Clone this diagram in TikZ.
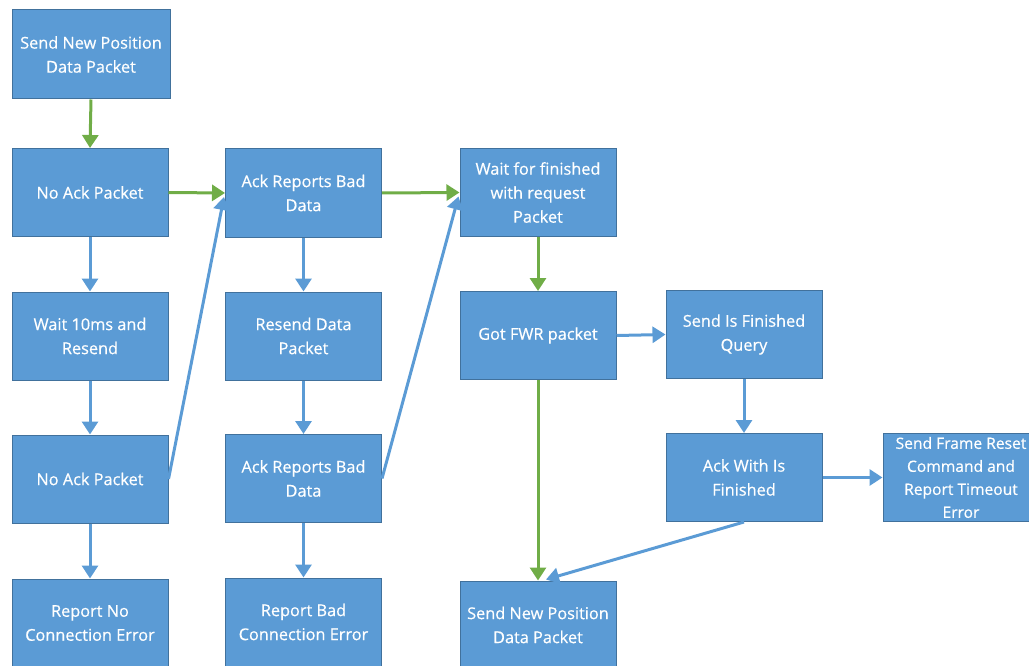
\documentclass[tikz,border=0pt]{standalone}
\usepackage{fontspec}
\setmainfont{Open Sans}
\newfontfamily\boxfont{Open Sans}[FakeBold=0.5]
\usetikzlibrary{arrows.meta,calc}
\definecolor{boxfill}{HTML}{5B9BD5}
\definecolor{boxline}{HTML}{41719C}
\definecolor{arrgreen}{HTML}{70AD47}
\definecolor{arrblue}{HTML}{5B9BD5}
\begin{document}
\begin{tikzpicture}[x=1pt,y=-1pt,
  box/.style={draw=boxline,line width=1pt,fill=boxfill,text=white,
    minimum width=156pt,minimum height=88pt,align=center,inner sep=1pt,
    font=\boxfont\fontsize{16.3}{24}\selectfont},
  garr/.style={draw=arrgreen,line width=3pt,-{Triangle[length=13pt,width=16pt]}},
  barr/.style={draw=arrblue,line width=3pt,-{Triangle[length=13pt,width=16pt]}}]
\useasboundingbox (0,0) rectangle (1029,666);
\clip (0,0) rectangle (1029,666);
\node[box,minimum width=158pt,minimum height=89pt] (A1) at (91,54.5) {Send New Position\\Data Packet};
\node[box] (N1) at (90,192.5) {No Ack Packet};
\node[box] (B1) at (303.5,193) {Ack Reports Bad\\Data};
\node[box] (W1) at (538,192.5) {Wait for finished\\with request\\Packet};
\node[box] (N2) at (90,336) {Wait 10ms and\\Resend};
\node[box] (B2) at (303.5,336) {Resend Data\\Packet};
\node[box] (G) at (538,335.5) {Got FWR packet};
\node[box] (Q) at (744,334.5) {Send Is Finished\\Query};
\node[box] (N3) at (90,479) {No Ack Packet};
\node[box] (B3) at (303.5,478.5) {Ack Reports Bad\\Data};
\node[box] (F) at (744,477.5) {Ack With Is\\Finished};
\node[box,font=\boxfont\fontsize{15.6}{23}\selectfont] (R) at (961,477.5) {Send Frame Reset\\Command and\\Report Timeout\\Error};
\node[box] (N4) at (90,623) {Report No\\Connection Error};
\node[box] (B4) at (303.5,622) {Report Bad\\Connection Error};
\node[box] (S) at (538,625) {Send New Position\\Data Packet};
% green
\draw[garr] (A1.south) -- (N1.north);
\draw[garr] (N1.east) -- (B1.west);
\draw[garr] (B1.east) -- (W1.west);
\draw[garr] (W1.south) -- (G.north);
\draw[garr] (G.south) -- (S.north);
% blue verticals
\draw[barr] (N1.south) -- (N2.north);
\draw[barr] (N2.south) -- (N3.north);
\draw[barr] (N3.south) -- (N4.north);
\draw[barr] (B1.south) -- (B2.north);
\draw[barr] (B2.south) -- (B3.north);
\draw[barr] (B3.south) -- (B4.north);
\draw[barr] (G.east) -- (Q.west);
\draw[barr] (Q.south) -- (F.north);
\draw[barr] (F.east) -- (R.west);
% diagonals
\draw[barr] (N3.east) -- ($(B1.west)+(-1,4)$);
\draw[barr] (B3.east) -- ($(W1.west)+(-1,4)$);
\draw[barr] (F.south) -- ($(S.north)+(8,-1)$);
\end{tikzpicture}
\end{document}
